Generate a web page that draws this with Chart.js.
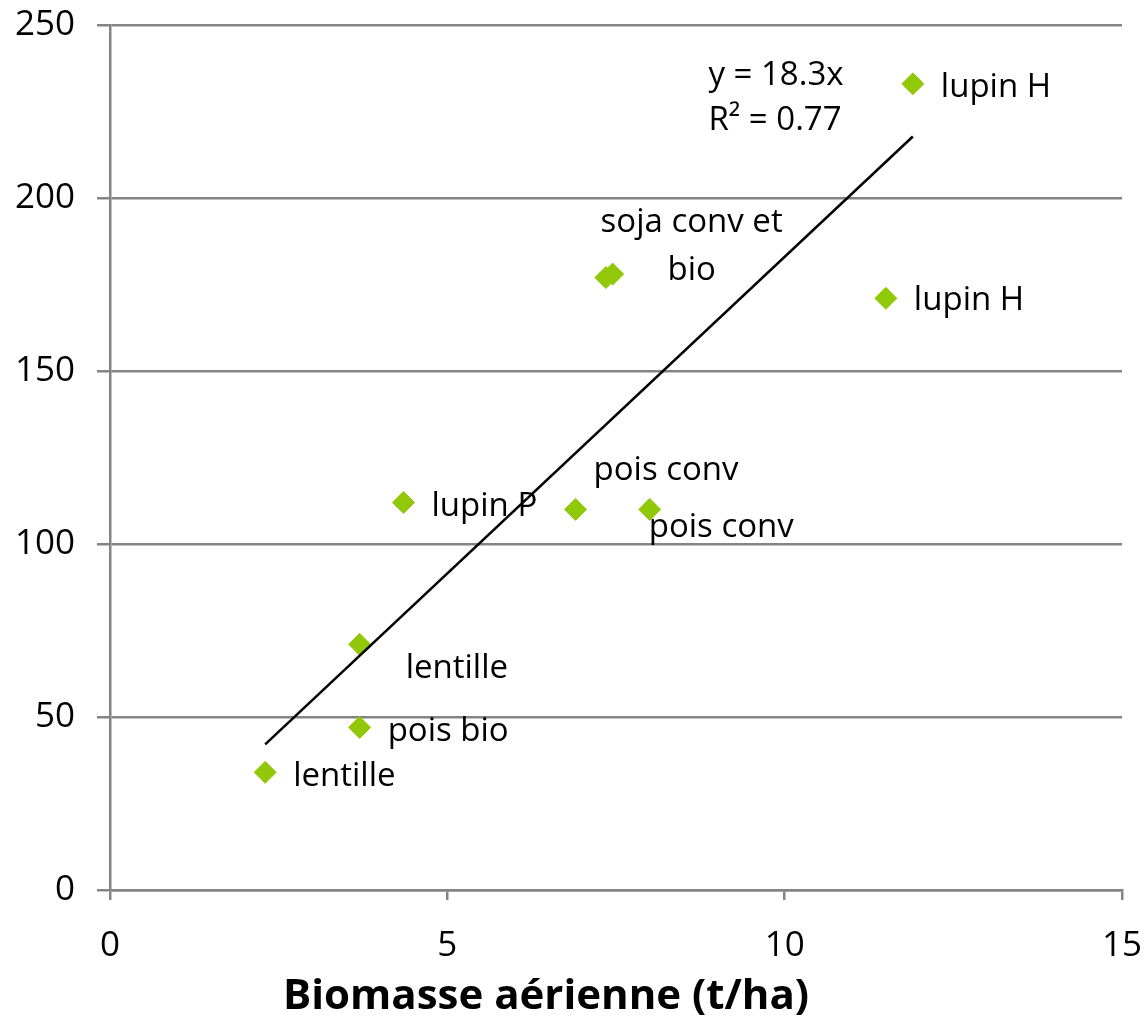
<!DOCTYPE html>
<html>
<head>
<meta charset="utf-8">
<script src="https://cdn.jsdelivr.net/npm/chart.js@4"></script>
<style>
  html, body { margin: 0; padding: 0; background: #fff; }
  canvas { display: block; }
</style>
</head>
<body>
<canvas id="biomasseChart" width="1144" height="1018"></canvas>
<script>
// Data
const biomasse = [11.9, 11.5, 7.35, 7.45, 4.35, 6.9, 8.0, 3.7, 3.7, 2.3];
const azote = [233, 171, 177, 178, 112, 110, 110, 71, 47, 34];
const pointLabels = ['lupin H', 'lupin H', '', 'soja conv et\nbio', 'lupin P', 'pois conv', 'pois conv', 'lentille', 'pois bio', 'lentille'];
const xTicks = [0, 5, 10, 15];
const yTicks = [0, 50, 100, 150, 200, 250];
const trendSlope = 18.3;
const trendR2 = 0.77;
const xTitle = 'Biomasse aérienne (t/ha)';

// label offsets from the marker (px): [dx, dy of baseline, align]
const labelOffsets = [
    [28, 13, 'left'], [28, 12, 'left'], [0, 0, 'left'], [79, -42, 'center'],
    [28, 14, 'left'], [18, -29, 'left'], [-1, 28, 'left'], [46, 34, 'left'],
    [28, 14, 'left'], [28, 14, 'left']
];

const gridColor = '#848484';
const markerColor = '#92c80a';
const fontFamily = '"Open Sans", "Noto Sans", sans-serif';

const points = biomasse.map((x, i) => ({ x: x, y: azote[i] }));
const xMin = Math.min(...biomasse);
const xMax = Math.max(...biomasse);
const trendPoints = [
    { x: xMin, y: trendSlope * xMin },
    { x: xMax, y: trendSlope * xMax }
];

const labelPlugin = {
    id: 'pointLabels',
    afterDatasetsDraw(chart) {
        const c = chart.ctx;
        const meta = chart.getDatasetMeta(1);
        c.save();
        c.fillStyle = '#000';
        c.font = '33px ' + fontFamily;
        c.textBaseline = 'alphabetic';
        meta.data.forEach((el, i) => {
            const text = pointLabels[i];
            if (!text) return;
            const [dx, dy, align] = labelOffsets[i];
            c.textAlign = align;
            text.split('\n').forEach((line, k) => {
                c.fillText(line, el.x + dx, el.y + dy + k * 48);
            });
        });

        // trendline equation
        const xs = chart.scales.x, ys = chart.scales.y;
        const ex = xs.getPixelForValue(8.87);
        const ey = ys.getPixelForValue(236) + 12;
        c.textAlign = 'left';
        c.fillText('y = ' + trendSlope + 'x', ex, ey);
        c.fillText('R² = ' + trendR2, ex, ey + 45);

        // axis title
        c.font = 'bold 42px ' + fontFamily;
        c.textAlign = 'center';
        c.fillText(xTitle, 546, 1009);
        c.restore();
    }
};

new Chart(document.getElementById('biomasseChart'), {
    type: 'scatter',
    data: {
        datasets: [{
            type: 'line',
            label: 'trend',
            data: trendPoints,
            borderColor: '#000',
            borderWidth: 2.5,
            pointRadius: 0,
            fill: false
        }, {
            label: 'points',
            data: points,
            pointStyle: 'rectRot',
            pointRadius: 11,
            pointBackgroundColor: markerColor,
            pointBorderColor: markerColor,
            pointBorderWidth: 1
        }]
    },
    options: {
        responsive: false,
        animation: false,
        layout: { padding: { top: 25, right: 22, left: 0, bottom: 0 } },
        plugins: {
            legend: { display: false },
            tooltip: { enabled: false }
        },
        scales: {
            x: {
                type: 'linear',
                min: 0,
                max: 15,
                afterBuildTicks: (s) => { s.ticks = xTicks.map(v => ({ value: v })); },
                afterFit: (s) => { s.height = 128; s.paddingLeft = 0; s.paddingRight = 0; },
                grid: { drawOnChartArea: false, drawTicks: true, tickLength: 10, color: gridColor, lineWidth: 2.5 },
                border: { display: true, color: gridColor, width: 2.5 },
                ticks: { color: '#000', font: { family: fontFamily, size: 35 }, padding: 25, maxRotation: 0 }
            },
            y: {
                min: 0,
                max: 250,
                afterBuildTicks: (s) => { s.ticks = yTicks.map(v => ({ value: v })); },
                afterFit: (s) => { s.width = 110; s.paddingTop = 0; s.paddingBottom = 0; },
                grid: { drawOnChartArea: true, drawTicks: true, tickLength: 13, color: gridColor, lineWidth: 2.5 },
                border: { display: true, color: gridColor, width: 2.5 },
                ticks: { color: '#000', font: { family: fontFamily, size: 35 }, padding: 22 }
            }
        }
    },
    plugins: [labelPlugin]
});
</script>
</body>
</html>
